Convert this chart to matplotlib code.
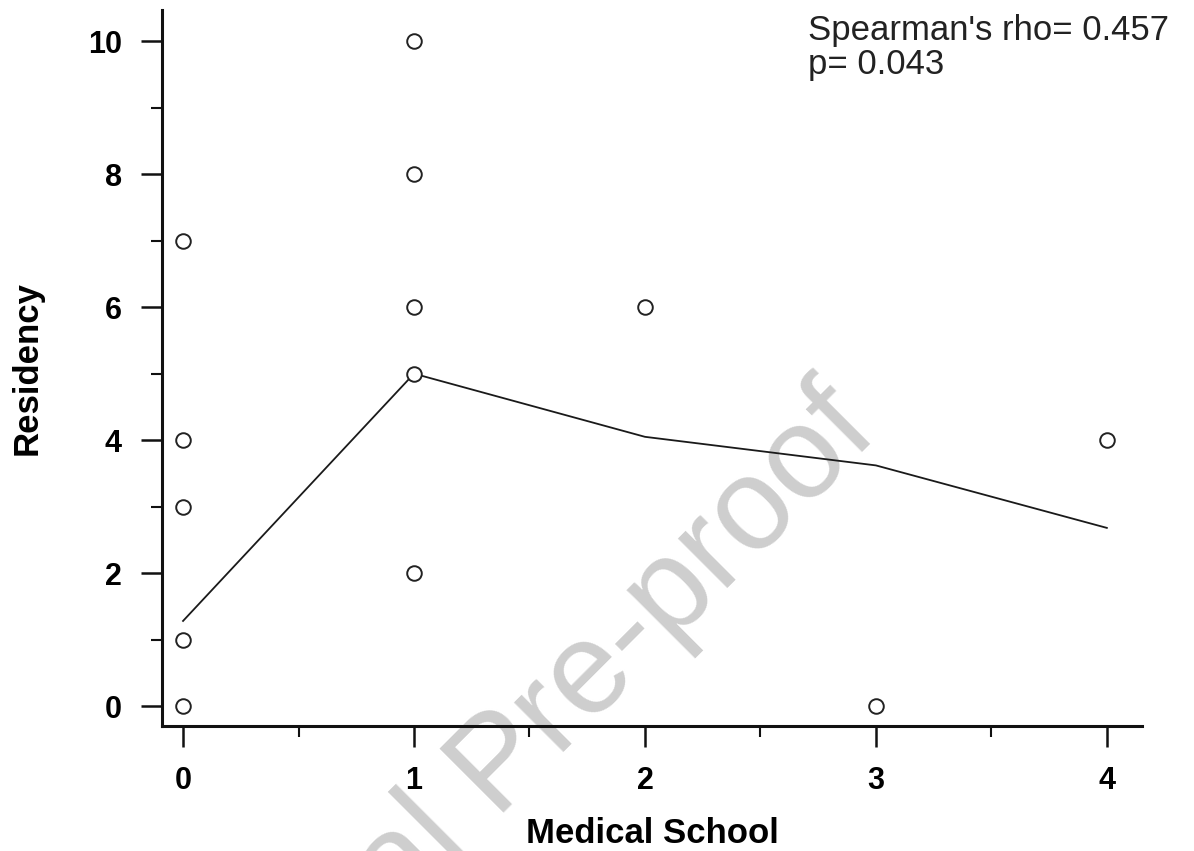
import matplotlib
matplotlib.use("Agg")
import matplotlib.pyplot as plt
from matplotlib.ticker import MultipleLocator

# scatter points (Medical School vs Residency)
med_school = [0, 0, 0, 0, 0, 1, 1, 1, 1, 1, 2, 3, 4]
residency = [7, 4, 3, 1, 0, 10, 8, 6, 5, 2, 6, 0, 4]

# smoothed fit line
fit_x = [0, 1, 2, 3, 4]
fit_y = [1.28, 5.0, 4.05, 3.62, 2.68]

stats_text = "Spearman's rho= 0.457\np= 0.043"

plt.rcParams['font.family'] = ['Liberation Sans', 'DejaVu Sans']

fig = plt.figure(figsize=(11.94, 8.51), dpi=100)
ax = fig.add_axes([0.1357, 0.1469, 0.8207, 0.8413])

ax.plot(fit_x, fit_y, color='#1a1a1a', lw=1.3, zorder=2)
ax.plot(med_school, residency, linestyle='none', marker='o', ms=10.5,
        mfc='white', mec='#222222', mew=1.4, zorder=3)

ax.set_xlim(-0.091, 4.152)
ax.set_ylim(-0.30, 10.47)

for s in ['top', 'right']:
    ax.spines[s].set_visible(False)
for s in ['left', 'bottom']:
    ax.spines[s].set_linewidth(2.2)
    ax.spines[s].set_color('#111111')

ax.xaxis.set_major_locator(MultipleLocator(1))
ax.xaxis.set_minor_locator(MultipleLocator(0.5))
ax.yaxis.set_major_locator(MultipleLocator(2))
ax.yaxis.set_minor_locator(MultipleLocator(1))

ax.tick_params(which='major', length=15, width=1.8, pad=14, color='#111111',
               labelsize=22)
ax.tick_params(which='minor', length=8, width=1.5, color='#111111')
for lab in ax.get_xticklabels() + ax.get_yticklabels():
    lab.set_fontweight('bold')

ax.set_xlabel('Medical School', fontsize=25, fontweight='bold', labelpad=15)
ax.set_ylabel('Residency', fontsize=25, fontweight='bold', labelpad=32)

fig.text(0.677, 0.984, stats_text, fontsize=25, color='#222222',
         va='top', ha='left', linespacing=1.05)

# watermark, behind the data
ax.text(0.738, 0.489, 'Journal Pre-proof', transform=fig.transFigure,
        fontsize=94, color='#cecece', rotation=45, rotation_mode='anchor',
        ha='right', va='baseline', zorder=1, clip_on=False)

fig.savefig('out.png', dpi=100, facecolor='white')
